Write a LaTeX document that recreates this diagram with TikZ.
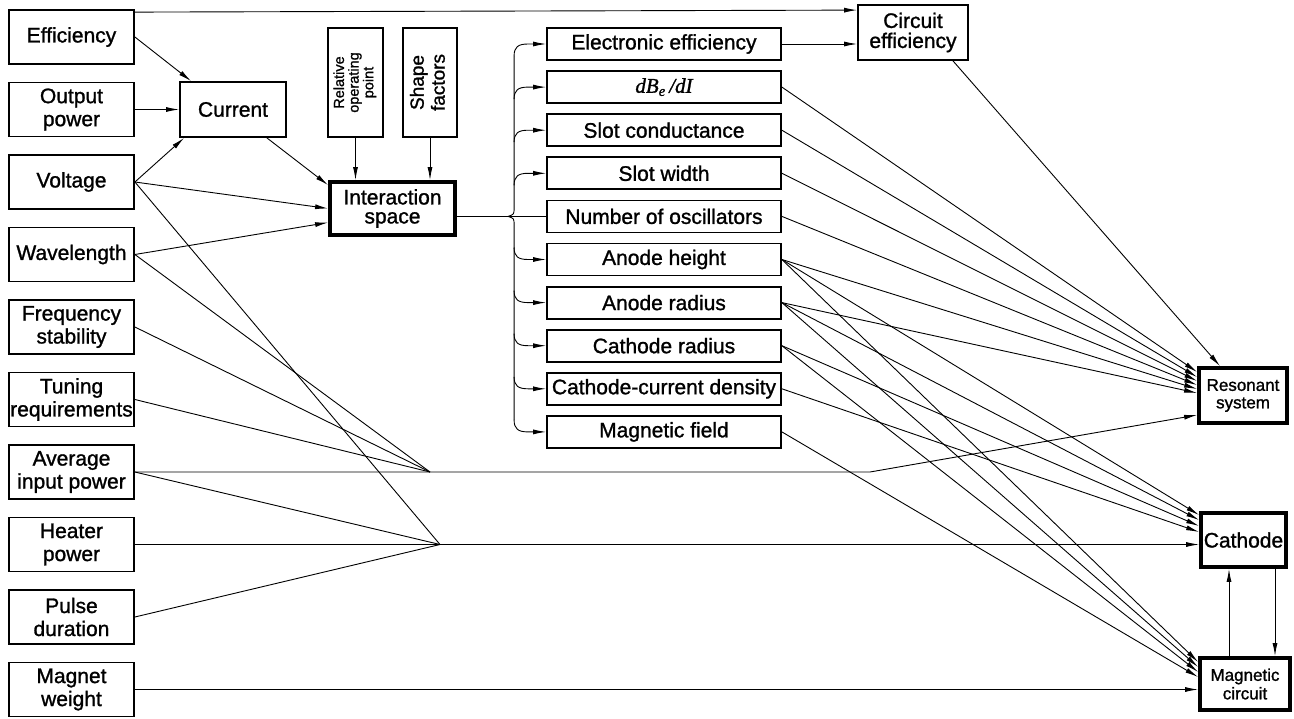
\documentclass[tikz,border=0pt]{standalone}
\usepackage{fontspec}
\setmainfont{Liberation Sans}[FakeBold=1.2]
\newfontfamily\serifit{Liberation Serif}[FakeBold=1.2]
\usepackage{graphicx}
\usetikzlibrary{arrows.meta,calc}
\begin{document}
\begin{tikzpicture}[x=1pt,y=-1pt,
 lbox/.style={draw,line width=1.8pt,minimum width=125pt,minimum height=54pt,inner sep=0pt,align=center,font=\fontsize{21}{23}\selectfont},
 mbox/.style={draw,line width=1.8pt,minimum width=234pt,minimum height=32pt,inner sep=0pt,font=\fontsize{21}{23}\selectfont},
 tbox/.style={draw,line width=3.8pt,inner sep=0pt,align=center},
 arr/.style={line width=0.9pt,-{Latex[length=13pt,width=5pt]}},
 ln/.style={line width=0.9pt}]
\useasboundingbox (0,0) rectangle (1294,718);
% left column
\node[lbox] (eff) at (71.5,37) {Efficiency};
\node[lbox] (outp) at (71.5,109.5) {Output\\power};
\node[lbox] (volt) at (71.5,182) {Voltage};
\node[lbox] (wave) at (71.5,254.5) {Wavelength};
\node[lbox] (freq) at (71.5,327) {Frequency\\stability};
\node[lbox] (tune) at (71.5,399.5) {Tuning\\requirements};
\node[lbox] (avg) at (71.5,472) {Average\\input power};
\node[lbox] (heat) at (71.5,544.5) {Heater\\power};
\node[lbox] (puls) at (71.5,617) {Pulse\\duration};
\node[lbox] (magw) at (71.5,689.5) {Magnet\\weight};
% current, factors, interaction
\node[lbox,minimum width=106pt,minimum height=55pt] (cur) at (233,109.5) {Current};
\node[draw,line width=1.8pt,minimum width=55pt,minimum height=109pt,inner sep=0pt] (rel) at (355.5,82.5)
  {\rotatebox{90}{\fontsize{14.5}{14}\selectfont\begin{tabular}{@{}c@{}}Relative\\operating\\point\end{tabular}}};
\node[draw,line width=1.8pt,minimum width=54pt,minimum height=109pt,inner sep=0pt] (shp) at (430,82.5)
  {\rotatebox{90}{\fontsize{19}{21}\selectfont\begin{tabular}{@{}c@{}}Shape\\factors\end{tabular}}};
\node[tbox,minimum width=125pt,minimum height=53pt,font=\fontsize{21}{19}\selectfont] (int) at (392.5,208.5) {Interaction\\space};
% middle column
\node[mbox] (m0) at (664,44) {Electronic efficiency};
\node[mbox] (m1) at (664,87.1) {{\serifit\itshape dB\textsubscript{e}\,/dI}};
\node[mbox] (m2) at (664,130.2) {Slot conductance};
\node[mbox] (m3) at (664,173.3) {Slot width};
\node[mbox] (m4) at (664,216.4) {Number of oscillators};
\node[mbox] (m5) at (664,259.5) {Anode height};
\node[mbox] (m6) at (664,302.6) {Anode radius};
\node[mbox] (m7) at (664,345.7) {Cathode radius};
\node[mbox] (m8) at (664,388.8) {Cathode-current density};
\node[mbox] (m9) at (664,431.9) {Magnetic field};
% right
\node[lbox,minimum width=110pt,minimum height=55pt,font=\fontsize{21}{20}\selectfont] (circ) at (913,32.5) {Circuit\\efficiency};
\node[tbox,minimum width=88pt,minimum height=55pt,font=\fontsize{17}{17.5}\selectfont] (res) at (1243,395.5) {Resonant\\system};
\node[tbox,minimum width=85pt,minimum height=54pt,font=\fontsize{21}{23}\selectfont] (cath) at (1243.5,540) {Cathode};
\node[tbox,minimum width=90pt,minimum height=52pt,font=\fontsize{17}{18.5}\selectfont] (magc) at (1245,684) {Magnetic\\circuit};
% junctions
\coordinate (ja) at (430,472);
\coordinate (jb) at (440,544.5);
\coordinate (bend) at (870,472);
% left connectors
\draw[arr] ([yshift=-3pt]eff.north east) -- ([yshift=-6pt]circ.north west);
\draw[arr] (eff.east) -- ([xshift=12pt]cur.north west);
\draw[arr] (outp.east) -- (cur.west);
\draw[arr] (volt.east) -- ([xshift=5pt]cur.south west);
\draw[arr] ([xshift=-20pt]cur.south east) -- ([yshift=-5pt]int.north west);
\draw[arr] (volt.east) -- (int.west);
\draw[arr] (wave.east) -- ([yshift=-14pt]int.west);
\draw[arr] (rel.south) -- (rel.south |- int.north);
\draw[arr] (shp.south) -- (shp.south |- int.north);
\draw[ln] (wave.east) -- (ja);
\draw[ln] (freq.east) -- (ja);
\draw[ln] (tune.east) -- (ja);
\draw[arr] (avg.east) -- (ja) -- (bend) -- ([yshift=-19.5pt]res.west);
\draw[ln] (volt.east) -- (jb);
\draw[ln] (avg.east) -- (jb);
\draw[ln] (puls.east) -- (jb);
\draw[arr] (heat.east) -- (jb) -- ([yshift=-4.5pt]cath.west);
\draw[arr] (magw.east) -- ([yshift=-5.5pt]magc.west);
% brace
\draw[ln] (int.east |- m4.west) -- (m4.west);
\draw[ln] ($(m0.west)+(-32,12)$) -- ($(m4.west)+(-32,-9)$) .. controls ($(m4.west)+(-32,-2)$) .. ($(m4.west)+(-38,0)$);
\draw[ln] ($(m9.west)+(-32,-12)$) -- ($(m4.west)+(-32,9)$) .. controls ($(m4.west)+(-32,2)$) .. ($(m4.west)+(-38,0)$);
\foreach \i in {0,1,2,3}
  \draw[arr] ($(m\i.west)+(-32,12)$) .. controls ($(m\i.west)+(-32,3)$) and ($(m\i.west)+(-28,0)$) .. ($(m\i.west)+(-18,0)$) -- (m\i.west);
\foreach \i in {5,6,7,8,9}
  \draw[arr] ($(m\i.west)+(-32,-12)$) .. controls ($(m\i.west)+(-32,-3)$) and ($(m\i.west)+(-28,0)$) .. ($(m\i.west)+(-18,0)$) -- (m\i.west);
% right connectors
\draw[arr] (m0.east) -- (m0.east -| circ.west);
\draw[arr] ([xshift=40pt]circ.south) -- ([xshift=-23pt]res.north);
\foreach \n/\s in {m1/23.5,m2/18.5,m3/14.5,m4/10.5,m5/6.5,m6/2.5}
  \draw[arr] (\n.east) -- ([yshift=\s pt]res.west);
\foreach \n/\s in {m5/25,m6/20,m7/14,m8/8}
  \draw[arr] (\n.east) -- ([yshift=\s pt]cath.west);
\foreach \n/\s in {m5/22,m6/17,m7/12,m9/7}
  \draw[arr] (\n.east) -- ([yshift=\s pt]magc.west);
\draw[arr] ([xshift=-16pt]magc.north) -- ([xshift=-16pt]magc.north |- cath.south);
\draw[arr] ([xshift=30pt]magc.north |- cath.south) -- ([xshift=30pt]magc.north);
\end{tikzpicture}
\end{document}
